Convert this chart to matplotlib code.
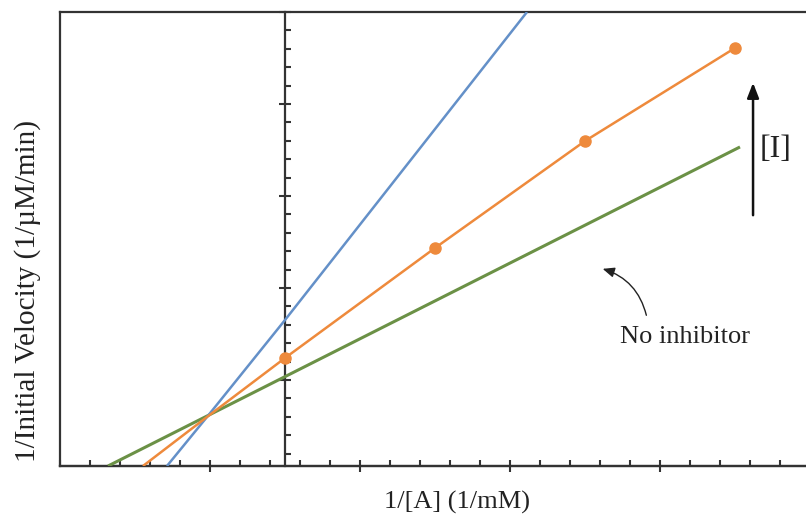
import numpy as np
import matplotlib.pyplot as plt

# ---- data (x: 1/[A], y: 1/v) ----
orange_pts_x = [0, 1, 2, 3]
orange_pts_y = [1.239, 2.435, 3.598, 4.609]
orange_line_x = [-0.947, -0.52, 0, 1, 2, 3]
orange_line_y = [0.065, 0.598, 1.239, 2.435, 3.598, 4.609]
blue_x = [-0.787, -0.52, 0, 1.613]
blue_y = [0.065, 0.598, 1.652, 5.0]
green_x = [-1.18, 3.033]
green_y = [0.065, 3.533]

x_major = [-0.5, 0.5, 1.5, 2.5]
x_minor = np.round(np.arange(-1.5, 3.5, 0.2), 2)
y_major = [1, 2, 3, 4, 5]
y_minor = np.round(np.arange(0.2, 5.0, 0.2), 2)

XLIM = (-1.5, 3.473)
YLIM = (0.065, 5.0)

serif = ['Liberation Serif', 'DejaVu Serif']
dark = '#333333'

fig = plt.figure(figsize=(8.06, 5.21), dpi=100)
pos = [60 / 806, 55 / 521, 746 / 806, 454 / 521]

frame = fig.add_axes(pos)
frame.set_xticks([]); frame.set_yticks([])
frame.spines['right'].set_visible(False)
for s in ['left', 'top', 'bottom']:
    frame.spines[s].set_linewidth(1.6)
    frame.spines[s].set_color(dark)

ax = fig.add_axes(pos, facecolor='none')
ax.set_xlim(*XLIM); ax.set_ylim(*YLIM)
ax.spines['left'].set_position(('data', 0))
ax.spines['right'].set_visible(False)
ax.spines['top'].set_visible(False)
for s in ['left', 'bottom']:
    ax.spines[s].set_linewidth(1.6)
    ax.spines[s].set_color(dark)

ax.set_xticks(x_major); ax.set_xticks(x_minor, minor=True)
ax.set_yticks(y_major); ax.set_yticks(y_minor, minor=True)
ax.set_xticklabels([]); ax.set_yticklabels([])
ax.tick_params(which='major', direction='inout', length=9, width=1.5, color=dark)
ax.tick_params(which='minor', direction='in', length=4, width=1.5, color=dark)

ax.plot(green_x, green_y, color='#6b9146', lw=2.2, solid_capstyle='butt', zorder=3)
ax.plot(blue_x, blue_y, color='#6490c8', lw=1.8, solid_capstyle='butt', zorder=3)
ax.plot(orange_line_x, orange_line_y, color='#ee8a3c', lw=1.8, solid_capstyle='butt', zorder=4)
ax.plot(orange_pts_x, orange_pts_y, 'o', color='#ee8a3c', ms=8, zorder=5)

ax.set_xlabel('1/[A] (1/mM)', family=serif, fontsize=19, color='#222222')
ax.xaxis.set_label_coords(0.532, -0.055)
ax.set_ylabel('1/Initial Velocity (1/µM/min)', family=serif, fontsize=21, color='#222222')
ax.yaxis.set_label_coords(-0.025, 0.385)

# [I] arrow
ax.annotate('', xy=(3.12, 4.261), xytext=(3.12, 2.761),
            arrowprops=dict(arrowstyle='-|>,head_length=0.9,head_width=0.35', lw=1.8, color='#111111'))
ax.text(3.267, 3.5, '[I]', family=serif, fontsize=23, ha='center', va='center', color='#222222')

# No inhibitor annotation
ax.text(2.667, 1.467, 'No inhibitor', family=serif, fontsize=19, ha='center', va='center', color='#222222')
ax.annotate('', xy=(2.1, 2.217), xytext=(2.413, 1.674),
            arrowprops=dict(arrowstyle='-|>,head_length=0.7,head_width=0.3', lw=1.0, color='#222222',
                            connectionstyle='arc3,rad=0.3'))

fig.savefig('out.png', dpi=100)
